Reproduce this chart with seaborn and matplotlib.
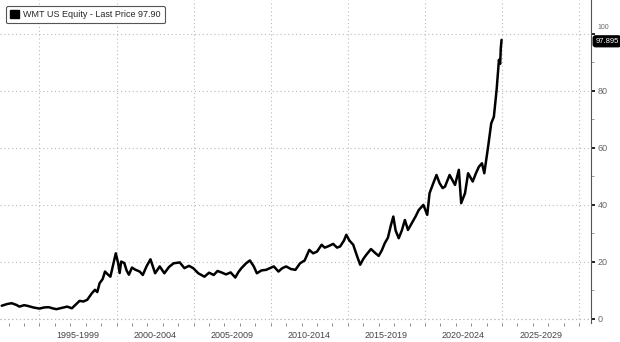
import matplotlib
matplotlib.use("Agg")
import matplotlib.pyplot as plt
import matplotlib.patches as mpatches
import matplotlib.transforms as mtransforms
import seaborn as sns
import pandas as pd
import numpy as np

# ---- data (decimal year, price) ----
years = [1992.55, 1992.9, 1993.2, 1993.5, 1993.7, 1994.0, 1994.2, 1994.6, 1995.0, 1995.3,
         1995.6, 1995.85, 1996.1, 1996.5, 1996.8, 1997.1, 1997.35, 1997.6, 1997.85, 1998.1,
         1998.4, 1998.6, 1998.75, 1998.9, 1999.1, 1999.25, 1999.45, 1999.6, 1999.8, 1999.95,
         2000.1, 2000.2, 2000.3, 2000.5, 2000.65, 2000.8, 2001.0, 2001.2, 2001.5, 2001.7,
         2001.95, 2002.2, 2002.35, 2002.5, 2002.8, 2003.1, 2003.4, 2003.7, 2004.1, 2004.4,
         2004.7, 2004.97, 2005.3, 2005.7, 2006.0, 2006.3, 2006.55, 2006.8, 2007.1, 2007.4,
         2007.7, 2007.9, 2008.1, 2008.4, 2008.65, 2008.9, 2009.1, 2009.4, 2009.7, 2010.2,
         2010.5, 2010.75, 2011.0, 2011.3, 2011.6, 2011.9, 2012.2, 2012.5, 2012.75, 2013.0,
         2013.3, 2013.5, 2013.7, 2014.05, 2014.3, 2014.5, 2014.75, 2014.9, 2015.1, 2015.35,
         2015.6, 2015.8, 2016.0, 2016.2, 2016.5, 2016.8, 2017.0, 2017.2, 2017.4, 2017.6,
         2017.8, 2017.95, 2018.1, 2018.3, 2018.5, 2018.7, 2018.9, 2019.2, 2019.4, 2019.6,
         2019.9, 2020.15, 2020.3, 2020.5, 2020.75, 2020.95, 2021.15, 2021.3, 2021.6, 2021.95,
         2022.2, 2022.35, 2022.6, 2022.8, 2023.1, 2023.3, 2023.5, 2023.7, 2023.85, 2024.1,
         2024.3, 2024.47, 2024.65, 2024.8, 2024.88, 2024.92, 2024.97]
prices = [4.6, 5.2, 5.5, 4.9, 4.3, 4.8, 4.6, 4.0, 3.6, 4.0,
          4.1, 3.7, 3.4, 3.9, 4.3, 3.7, 5.0, 6.3, 6.1, 6.7,
          9.0, 10.2, 9.4, 12.5, 14.0, 16.6, 15.5, 14.8, 19.5, 23.0,
          19.6, 16.1, 20.1, 19.6, 17.0, 15.5, 18.0, 17.3, 16.6, 15.4,
          18.5, 20.9, 18.5, 16.0, 18.4, 16.0, 18.2, 19.5, 19.8, 17.8,
          18.6, 17.8, 16.0, 14.8, 16.2, 15.4, 16.8, 16.3, 15.6, 16.3,
          14.5, 16.4, 17.8, 19.5, 20.5, 18.4, 16.0, 17.0, 17.2, 18.4,
          16.6, 17.8, 18.4, 17.5, 17.2, 19.5, 20.5, 24.2, 23.0, 23.6,
          26.0, 25.0, 25.4, 26.3, 25.0, 25.4, 27.5, 29.5, 27.5, 26.0,
          22.0, 19.0, 21.0, 22.5, 24.5, 23.0, 22.1, 24.0, 26.6, 28.5,
          33.0, 35.9, 31.0, 28.3, 31.0, 34.7, 31.2, 34.1, 36.0, 38.2,
          40.0, 36.5, 44.1, 47.0, 50.5, 47.6, 45.9, 46.4, 50.5, 47.0,
          52.3, 40.6, 44.1, 51.1, 48.2, 51.0, 53.4, 54.6, 51.1, 60.5,
          68.6, 70.9, 80.4, 90.9, 89.5, 95.0, 97.9]

period_labels = ["1995-1999", "2000-2004", "2005-2009", "2010-2014",
                 "2015-2019", "2020-2024", "2025-2029"]
period_edges = [1995, 2000, 2005, 2010, 2015, 2020, 2025, 2030]
y_ticks = [0, 20, 40, 60, 80, 100]
last_value = 97.895
legend_text = "WMT US Equity - Last Price 97.90"

df = pd.DataFrame({"year": years, "price": prices})

sns.set_style("white")
plt.rcParams["font.family"] = ["Liberation Sans", "DejaVu Sans"]

fig = plt.figure(figsize=(6.2, 3.42), dpi=100)
ax = fig.add_axes([0.0, 0.056, 0.9532, 0.944])

sns.lineplot(data=df, x="year", y="price", ax=ax, color="black", linewidth=1.8,
             legend=False)

ax.set_xlim(1992.44, 2030.77)
ax.set_ylim(-1.4, 111.9)
ax.set_xlabel("")
ax.set_ylabel("")

# spines
for s in ["top", "left", "bottom"]:
    ax.spines[s].set_visible(False)
ax.spines["right"].set_color("#555555")
ax.spines["right"].set_linewidth(0.8)

# y axis on right
ax.yaxis.tick_right()
ax.set_yticks(y_ticks)
ax.set_yticks([10, 30, 50, 70, 90], minor=True)
ax.tick_params(axis="y", which="major", length=3, width=1.2, color="black",
               labelsize=6.5, labelcolor="#666666", pad=2)
ax.tick_params(axis="y", which="minor", length=2, width=0.6, color="#888888")
# the top label sits just above the last-value tag, as in the reference
fig.canvas.draw()
for lab in ax.get_yticklabels():
    if lab.get_text() == "100":
        lab.set_fontsize(5)
        lab.set_va("bottom")
        lab.set_transform(lab.get_transform() +
                          mtransforms.ScaledTranslation(0, 2 / 72, fig.dpi_scale_trans))

# x axis: long separator ticks at period edges, labels centred in periods
ax.set_xticks(period_edges)
ax.set_xticklabels([""] * len(period_edges))
mids = [e + 2.5 for e in period_edges[:-1]]
ax.set_xticks(mids, minor=True)
ax.set_xticklabels(period_labels, minor=True)
ax.tick_params(axis="x", which="major", length=14, width=0.8, color="#777777")
ax.tick_params(axis="x", which="minor", length=0, labelsize=6.5,
               labelcolor="#444444", pad=6)

# small yearly ticks
sec = ax.secondary_xaxis("bottom")
sec.set_xticks(np.arange(1993, 2031, 1))
sec.set_xticklabels([])
sec.tick_params(length=2.5, width=0.6, color="#777777")
sec.spines["bottom"].set_visible(False)

# dotted grid
ax.grid(True, which="major", axis="both", linestyle=(0, (1, 2.5)),
        color="#bbbbbb", linewidth=0.8)
ax.axhline(0, color="#bbbbbb", linestyle=(0, (1, 2.5)), linewidth=0.8, zorder=0)

# last value tag
ax.annotate(f"{last_value:.3f}", xy=(1.0, last_value),
            xycoords=("axes fraction", "data"),
            xytext=(3, -1), textcoords="offset points",
            ha="left", va="center", fontsize=5.5, color="white",
            bbox=dict(boxstyle="round,pad=0.25,rounding_size=0.3",
                      fc="black", ec="black"),
            annotation_clip=False, zorder=10)

# legend
handle = mpatches.Patch(facecolor="black", edgecolor="black", label=legend_text)
leg = ax.legend(handles=[handle], loc="upper left", bbox_to_anchor=(0.003, 0.995),
                fontsize=6.5, frameon=True, fancybox=True, handlelength=1.0,
                handleheight=1.0, handletextpad=0.4, borderpad=0.45,
                edgecolor="#555555", framealpha=1)
leg.get_frame().set_linewidth(0.8)

fig.savefig("out.png", dpi=100)
